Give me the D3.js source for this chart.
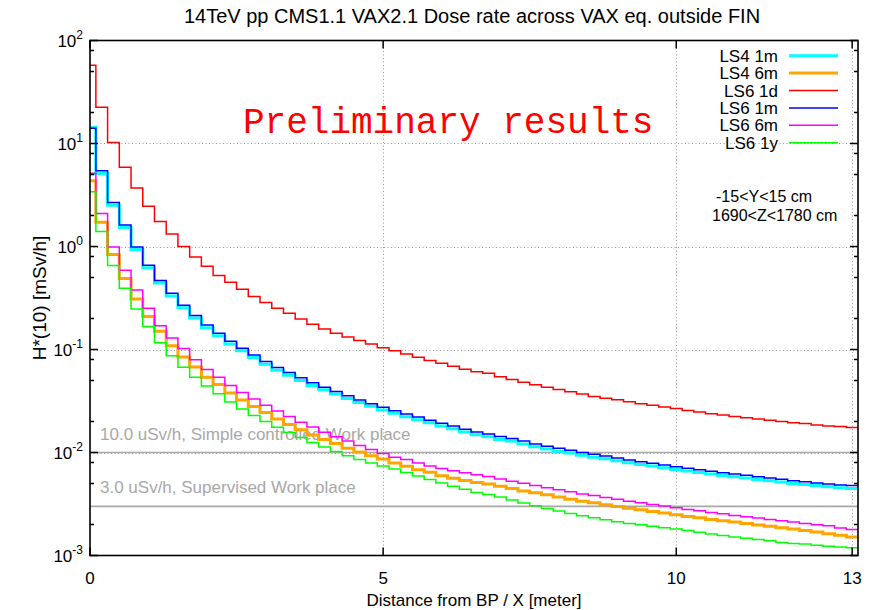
<!DOCTYPE html>
<html>
<head>
<meta charset="utf-8">
<script src="https://d3js.org/d3.v7.min.js"></script>
<style>
body { margin: 0; background: #fff; }
svg { display: block; font-family: "Liberation Sans", Arial, sans-serif; }
</style>
</head>
<body>
<svg width="875" height="610"></svg>
<script>
// bin centres along X [m], histeps with 0.2 m bins
var binWidth = 0.2;
var binCenters = d3.range(66).map(function(i) { return +(i * binWidth).toFixed(1); });

// H*(10) [mSv/h], one value per bin
var ls4_1m = [14.3, 5.12, 2.52, 1.53, 0.935, 0.622, 0.441, 0.331, 0.254, 0.202,
  0.163, 0.136, 0.113, 0.0970, 0.0834, 0.0719, 0.0629, 0.0563, 0.0500, 0.0448,
  0.0406, 0.0369, 0.0335, 0.0305, 0.0281, 0.0259, 0.0240, 0.0223, 0.0208, 0.0194,
  0.0181, 0.0170, 0.0158, 0.0149, 0.0142, 0.0134, 0.0129, 0.0121, 0.0114, 0.0108,
  0.0103, 0.00987, 0.00940, 0.00901, 0.00868, 0.00830, 0.00794, 0.00764, 0.00738, 0.00710,
  0.00684, 0.00661, 0.00640, 0.00618, 0.00599, 0.00582, 0.00565, 0.00547, 0.00532, 0.00517,
  0.00501, 0.00490, 0.00477, 0.00465, 0.00455, 0.00448];
var ls4_6m = [4.36, 1.72, 0.836, 0.490, 0.309, 0.209, 0.150, 0.109, 0.0847, 0.0678,
  0.0538, 0.0457, 0.0378, 0.0324, 0.0279, 0.0244, 0.0212, 0.0187, 0.0166, 0.0148,
  0.0134, 0.0122, 0.0110, 0.0101, 0.00929, 0.00863, 0.00790, 0.00734, 0.00681, 0.00643,
  0.00596, 0.00562, 0.00535, 0.00512, 0.00495, 0.00471, 0.00446, 0.00424, 0.00406, 0.00388,
  0.00369, 0.00352, 0.00337, 0.00325, 0.00311, 0.00299, 0.00288, 0.00278, 0.00268, 0.00258,
  0.00249, 0.00239, 0.00233, 0.00224, 0.00218, 0.00211, 0.00204, 0.00198, 0.00192, 0.00186,
  0.00181, 0.00175, 0.00169, 0.00163, 0.00157, 0.00151];
var ls6_1d = [57.4, 22.5, 10.2, 5.88, 3.70, 2.46, 1.75, 1.32, 0.998, 0.792,
  0.644, 0.524, 0.449, 0.384, 0.327, 0.286, 0.252, 0.225, 0.198, 0.176,
  0.158, 0.144, 0.132, 0.122, 0.113, 0.104, 0.0973, 0.0905, 0.0839, 0.0780,
  0.0735, 0.0687, 0.0643, 0.0607, 0.0588, 0.0543, 0.0511, 0.0481, 0.0454, 0.0431,
  0.0409, 0.0389, 0.0369, 0.0350, 0.0337, 0.0326, 0.0311, 0.0298, 0.0287, 0.0276,
  0.0267, 0.0256, 0.0247, 0.0238, 0.0231, 0.0224, 0.0218, 0.0211, 0.0206, 0.0200,
  0.0194, 0.0191, 0.0185, 0.0181, 0.0179, 0.0175];
var ls6_1m = [14.1, 5.44, 2.67, 1.62, 0.989, 0.659, 0.467, 0.351, 0.269, 0.214,
  0.173, 0.144, 0.120, 0.103, 0.0885, 0.0763, 0.0667, 0.0597, 0.0531, 0.0475,
  0.0431, 0.0392, 0.0356, 0.0324, 0.0298, 0.0275, 0.0255, 0.0237, 0.0221, 0.0206,
  0.0192, 0.0181, 0.0168, 0.0158, 0.0151, 0.0143, 0.0137, 0.0129, 0.0121, 0.0115,
  0.0110, 0.0105, 0.0100, 0.00959, 0.00923, 0.00883, 0.00845, 0.00813, 0.00785, 0.00755,
  0.00728, 0.00703, 0.00681, 0.00658, 0.00637, 0.00619, 0.00601, 0.00582, 0.00566, 0.00550,
  0.00533, 0.00521, 0.00507, 0.00495, 0.00484, 0.00477];
var ls6_6m = [5.13, 2.09, 0.989, 0.589, 0.378, 0.252, 0.170, 0.129, 0.102, 0.0797,
  0.0638, 0.0538, 0.0448, 0.0383, 0.0330, 0.0288, 0.0253, 0.0224, 0.0197, 0.0177,
  0.0157, 0.0142, 0.0129, 0.0117, 0.0107, 0.00976, 0.00897, 0.00854, 0.00790, 0.00739,
  0.00700, 0.00665, 0.00635, 0.00608, 0.00585, 0.00553, 0.00526, 0.00503, 0.00477, 0.00456,
  0.00434, 0.00415, 0.00396, 0.00382, 0.00366, 0.00352, 0.00337, 0.00325, 0.00313, 0.00302,
  0.00290, 0.00280, 0.00272, 0.00262, 0.00254, 0.00245, 0.00238, 0.00231, 0.00224, 0.00218,
  0.00211, 0.00205, 0.00199, 0.00194, 0.00185, 0.00179];
var ls6_1y = [3.41, 1.40, 0.654, 0.393, 0.247, 0.167, 0.116, 0.0871, 0.0671, 0.0538,
  0.0441, 0.0372, 0.0310, 0.0265, 0.0229, 0.0200, 0.0176, 0.0156, 0.0140, 0.0125,
  0.0113, 0.0102, 0.00929, 0.00854, 0.00790, 0.00739, 0.00692, 0.00640, 0.00592, 0.00547,
  0.00507, 0.00469, 0.00439, 0.00410, 0.00391, 0.00369, 0.00345, 0.00323, 0.00304, 0.00286,
  0.00270, 0.00256, 0.00243, 0.00233, 0.00223, 0.00213, 0.00205, 0.00199, 0.00192, 0.00186,
  0.00181, 0.00175, 0.00168, 0.00162, 0.00156, 0.00151, 0.00147, 0.00143, 0.00139, 0.00134,
  0.00131, 0.00129, 0.00126, 0.00123, 0.00121, 0.00119];

var seriesNames = ["LS4 1m", "LS4 6m", "LS6 1d", "LS6 1m", "LS6 6m", "LS6 1y"];
var seriesValues = [ls4_1m, ls4_6m, ls6_1d, ls6_1m, ls6_6m, ls6_1y];
var seriesColors = ["#00ffff", "#ffa500", "#ff0000", "#0000ff", "#ff00ff", "#00ff00"];
var seriesWidths = [3, 3, 1.5, 1.5, 1.5, 1.5];

// reference levels (mSv/h)
var limitValues = [0.01, 0.003];
var limitLabels = ["10.0 uSv/h, Simple controlled Work place", "3.0 uSv/h, Supervised Work place"];

var xTicks = [0, 5, 10, 13];
var yDecades = [-3, -2, -1, 0, 1, 2];
var yMinorFactors = [2, 5, 8];

var svg = d3.select("svg"),
    width = 875,
    height = 610;

var plot = {left: 90, right: 858, top: 40.5, bottom: 555.5};

var x = d3.scaleLinear().domain([0, 13.1]).range([plot.left, plot.right]);
var y = d3.scaleLog().domain([1e-3, 1e2]).range([plot.bottom, plot.top]);

svg.append("rect").attr("width", width).attr("height", height).attr("fill", "#fff");

svg.append("defs").append("clipPath").attr("id", "plotclip")
  .append("rect")
    .attr("x", plot.left).attr("y", plot.top)
    .attr("width", plot.right - plot.left).attr("height", plot.bottom - plot.top);

//////////// GRID ////////////
var grid = svg.append("g").attr("stroke", "#999").attr("stroke-width", 1).attr("stroke-dasharray", "1,2.5");
grid.selectAll("line.gy")
  .data(yDecades.filter(function(e) { return e > -3 && e < 2; }))
  .enter().append("line")
    .attr("x1", plot.left).attr("x2", plot.right)
    .attr("y1", function(e) { return Math.round(y(Math.pow(10, e))) + 0.5; })
    .attr("y2", function(e) { return Math.round(y(Math.pow(10, e))) + 0.5; });
grid.selectAll("line.gx")
  .data(xTicks.filter(function(t) { return t > 0; }))
  .enter().append("line")
    .attr("y1", plot.top).attr("y2", plot.bottom)
    .attr("x1", function(t) { return Math.round(x(t)) + 0.5; })
    .attr("x2", function(t) { return Math.round(x(t)) + 0.5; });

//////////// REFERENCE LEVELS ////////////
svg.append("g").selectAll("line")
  .data(limitValues)
  .enter().append("line")
    .attr("x1", plot.left).attr("x2", plot.right)
    .attr("y1", function(d) { return y(d); })
    .attr("y2", function(d) { return y(d); })
    .attr("stroke", "#a8a8a8").attr("stroke-width", 1.6);

svg.append("g").selectAll("text")
  .data(limitLabels)
  .enter().append("text")
    .attr("x", 100)
    .attr("y", function(d, i) { return y(limitValues[i]) - 13; })
    .attr("font-size", 17)
    .attr("fill", "#a8a8a8")
    .text(function(d) { return d; });

//////////// CURVES ////////////
var line = d3.line()
  .x(function(d) { return x(d[0]); })
  .y(function(d) { return y(d[1]); })
  .curve(d3.curveStepAfter);

function stepPoints(vals) {
  var pts = vals.map(function(v, i) { return [binCenters[i] - binWidth / 2, v]; });
  pts.push([binCenters[vals.length - 1] + binWidth / 2, vals[vals.length - 1]]);
  return pts;
}

svg.append("g").attr("clip-path", "url(#plotclip)")
  .selectAll("path")
  .data(seriesValues)
  .enter().append("path")
    .attr("d", function(d) { return line(stepPoints(d)); })
    .attr("fill", "none")
    .attr("stroke", function(d, i) { return seriesColors[i]; })
    .attr("stroke-width", function(d, i) { return seriesWidths[i]; })
    .attr("stroke-linejoin", "miter");

//////////// FRAME AND TICKS ////////////
svg.append("rect")
  .attr("x", plot.left).attr("y", plot.top)
  .attr("width", plot.right - plot.left).attr("height", plot.bottom - plot.top)
  .attr("fill", "none").attr("stroke", "#000").attr("stroke-width", 1.6);

var ticks = svg.append("g").attr("stroke", "#000").attr("stroke-width", 1.5);
var minorVals = [];
yDecades.slice(0, -1).forEach(function(e) {
  yMinorFactors.forEach(function(f) { minorVals.push(f * Math.pow(10, e)); });
});
var yTickList = yDecades.map(function(e) { return {v: Math.pow(10, e), len: 8}; })
  .concat(minorVals.map(function(v) { return {v: v, len: 4}; }));
ticks.selectAll("line.yl").data(yTickList).enter().append("line")
  .attr("x1", plot.left).attr("x2", function(d) { return plot.left + d.len; })
  .attr("y1", function(d) { return y(d.v); }).attr("y2", function(d) { return y(d.v); });
ticks.selectAll("line.yr").data(yTickList).enter().append("line")
  .attr("x1", plot.right).attr("x2", function(d) { return plot.right - d.len; })
  .attr("y1", function(d) { return y(d.v); }).attr("y2", function(d) { return y(d.v); });
ticks.selectAll("line.xb").data(xTicks).enter().append("line")
  .attr("x1", function(d) { return x(d); }).attr("x2", function(d) { return x(d); })
  .attr("y1", plot.bottom).attr("y2", plot.bottom - 8);
ticks.selectAll("line.xt").data(xTicks).enter().append("line")
  .attr("x1", function(d) { return x(d); }).attr("x2", function(d) { return x(d); })
  .attr("y1", plot.top).attr("y2", plot.top + 8);

//////////// TICK LABELS ////////////
var yLab = svg.append("g").selectAll("text")
  .data(yDecades)
  .enter().append("text")
    .attr("x", 83)
    .attr("y", function(e) { return y(Math.pow(10, e)) + 6; })
    .attr("text-anchor", "end")
    .attr("font-size", 17);
yLab.append("tspan").text("10");
yLab.append("tspan").attr("dy", -8).attr("font-size", 12).text(function(e) { return e; });

svg.append("g").selectAll("text")
  .data(xTicks)
  .enter().append("text")
    .attr("x", function(d) { return x(d); })
    .attr("y", plot.bottom + 28)
    .attr("text-anchor", "middle")
    .attr("font-size", 17)
    .text(function(d) { return d; });

//////////// TITLES ////////////
svg.append("text")
  .attr("x", 472).attr("y", 23)
  .attr("text-anchor", "middle")
  .attr("font-size", 20)
  .text("14TeV pp CMS1.1 VAX2.1 Dose rate across VAX eq. outside FIN");

svg.append("text")
  .attr("x", 474).attr("y", 606)
  .attr("text-anchor", "middle")
  .attr("font-size", 17)
  .text("Distance from BP / X [meter]");

svg.append("text")
  .attr("transform", "translate(46,298) rotate(-90)")
  .attr("text-anchor", "middle")
  .attr("font-size", 19)
  .text("H*(10) [mSv/h]");

svg.append("text")
  .attr("x", 243).attr("y", 133)
  .attr("font-family", "'Liberation Mono', 'DejaVu Sans Mono', monospace")
  .attr("font-size", 36)
  .attr("fill", "#ff0000")
  .text("Preliminary results");

svg.append("text").attr("x", 716).attr("y", 202).attr("font-size", 16).text("-15<Y<15 cm");
svg.append("text").attr("x", 712).attr("y", 221).attr("font-size", 16).text("1690<Z<1780 cm");

//////////// LEGEND ////////////
var legend = svg.append("g").selectAll("g")
  .data(seriesNames)
  .enter().append("g")
    .attr("transform", function(d, i) { return "translate(0," + (55.7 + i * 17.4) + ")"; });
legend.append("text")
  .attr("x", 778).attr("y", 6)
  .attr("text-anchor", "end")
  .attr("font-size", 17)
  .text(function(d) { return d; });
legend.append("line")
  .attr("x1", 789).attr("x2", 838)
  .attr("stroke", function(d, i) { return seriesColors[i]; })
  .attr("stroke-width", function(d, i) { return seriesWidths[i]; });
</script>
</body>
</html>
